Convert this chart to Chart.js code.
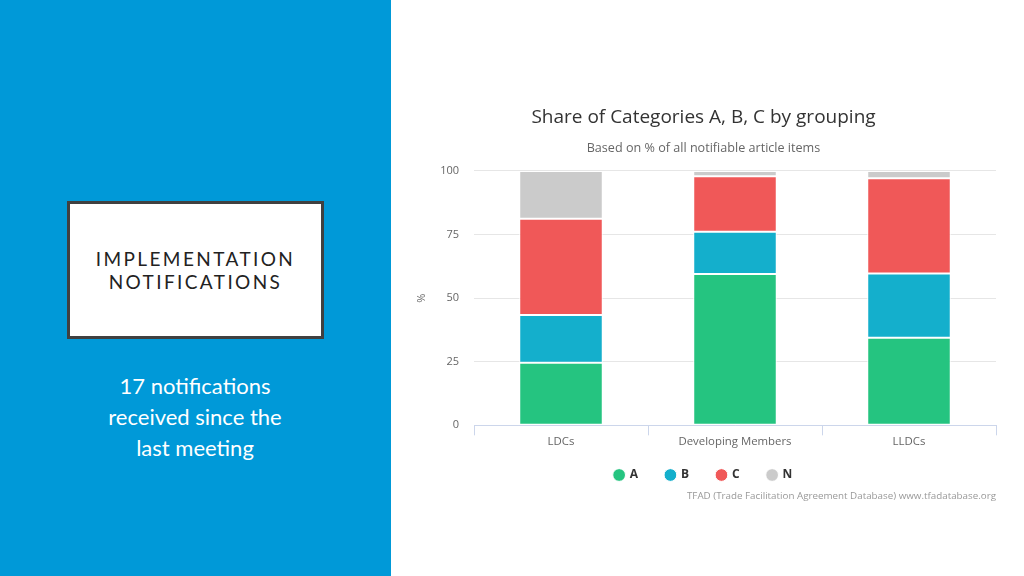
<!DOCTYPE html>
<html>
<head>
<meta charset="utf-8">
<script src="https://cdn.jsdelivr.net/npm/chart.js@4/dist/chart.umd.min.js"></script>
<style>
html,body{margin:0;padding:0;width:1024px;height:576px;overflow:hidden;background:#fff;}
#left{position:absolute;left:0;top:0;width:391px;height:576px;background:#0099d8;}
#box{position:absolute;left:67px;top:201px;width:251px;height:132px;background:#fff;border:3px solid #404040;}
#boxText{position:absolute;left:0;top:43px;width:251px;text-align:center;font-family:Lato,"Noto Sans",sans-serif;font-size:19px;line-height:23px;letter-spacing:2.4px;color:#222;}
#sub{position:absolute;left:60px;top:370px;width:270px;text-align:center;font-family:Lato,"Noto Sans",sans-serif;font-size:22px;line-height:31px;color:#fff;}
#wrap{position:absolute;left:391px;top:0;width:622px;height:576px;}
#credits{position:absolute;right:28px;top:489px;font-family:"Open Sans",sans-serif;font-size:9.8px;color:#999;}
</style>
</head>
<body>
<div id="left">
  <div id="box"><div id="boxText">IMPLEMENTATION<br>NOTIFICATIONS</div></div>
  <div id="sub">17 notifications<br>received since the<br>last meeting</div>
</div>
<div id="wrap"><canvas id="c" width="622" height="576"></canvas></div>
<div id="credits">TFAD (Trade Facilitation Agreement Database) www.tfadatabase.org</div>
<script>
const categories = ["LDCs", "Developing Members", "LLDCs"];
const seriesA = [24.6, 59.5, 34.4];
const seriesB = [18.8, 16.6, 25.3];
const seriesC = [37.8, 21.8, 37.4];
const seriesN = [18.8, 2.1, 2.9];
const yTicks = [0, 25, 50, 75, 100];

const FONT = "'Open Sans', sans-serif";
Chart.defaults.font.family = FONT;

function ds(label, data, color){
  return {label, data, backgroundColor: color, borderColor: '#ffffff', borderWidth: 1,
    borderSkipped: false, barPercentage: 0.6, categoryPercentage: 0.8, stack: 's'};
}

const legendShift = {
  id: 'legendShift',
  afterLayout(chart) {
    const lg = chart.legend;
    if (lg) { lg.top -= 8; lg.bottom -= 8; }
  }
};

new Chart(document.getElementById('c'), {
  type: 'bar',
  data: {
    labels: categories,
    datasets: [
      ds('A', seriesA, '#25c480'),
      ds('B', seriesB, '#14afcc'),
      ds('C', seriesC, '#f05858'),
      ds('N', seriesN, '#cbcbcb')
    ]
  },
  plugins: [legendShift],
  options: {
    responsive: false,
    animation: false,
    layout: {padding: {top: 106, right: 17, bottom: 77, left: 20}},
    plugins: {
      title: {display: true, text: 'Share of Categories A, B, C by grouping', color: '#333',
        font: {size: 19, weight: 'normal', family: FONT}, padding: {top: 0, bottom: 6}},
      subtitle: {display: true, text: 'Based on % of all notifiable article items', color: '#666',
        font: {size: 12.6, weight: 'normal', family: FONT}, padding: {top: 6, bottom: 15}},
      legend: {position: 'bottom',
        labels: {usePointStyle: true, pointStyle: 'circle', boxWidth: 9, boxHeight: 9,
          padding: 28, color: '#333', font: {size: 12, weight: 'bold', family: FONT}}},
      tooltip: {enabled: false}
    },
    scales: {
      x: {
        stacked: true,
        grid: {display: true, drawOnChartArea: false, drawTicks: true, tickLength: 10, color: '#ccd6eb', offset: true},
        border: {display: true, color: '#ccd6eb'},
        ticks: {color: '#666', font: {size: 11.4}, padding: 0}
      },
      y: {
        stacked: true, min: 0, max: 100,
        afterBuildTicks: (s) => { s.ticks = yTicks.map(v => ({value: v})); },
        afterFit: (s) => { s.width = 63; },
        grid: {color: '#e6e6e6', drawTicks: false},
        border: {display: false},
        ticks: {color: '#666', font: {size: 11}, padding: 15},
        title: {display: true, text: '%', color: '#666', font: {size: 11}, padding: {top: 4, bottom: 0}}
      }
    }
  }
});
</script>
</body>
</html>
